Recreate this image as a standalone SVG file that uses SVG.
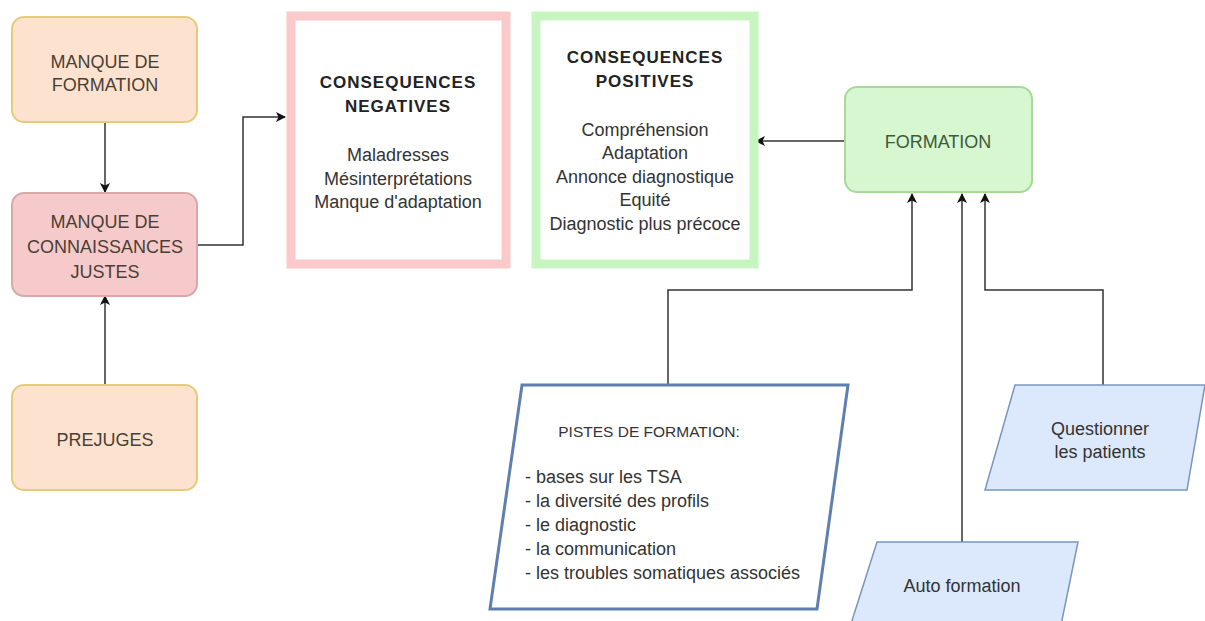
<svg xmlns="http://www.w3.org/2000/svg" width="1205" height="621" viewBox="0 0 1205 621">
<defs>
<marker id="ah" viewBox="0 0 10 10" refX="9" refY="5" markerWidth="10" markerHeight="10" markerUnits="userSpaceOnUse" orient="auto">
<path d="M0,0 L10,5 L0,10 L2.5,5 Z" fill="#111"/>
</marker>
<style>
text{font-family:"Liberation Sans",Arial,sans-serif;font-size:18px;fill:#333;text-anchor:middle}
.orange{fill:#fde3cf;stroke:#e6cc7a;stroke-width:2}
.red{fill:#f6caca;stroke:#d9a8a8;stroke-width:2}
.green{fill:#d6f7d0;stroke:#a8d89a;stroke-width:2}
.blue{fill:#dce8fb;stroke:#7a95c0;stroke-width:1.5}
.title{font-weight:bold;font-size:17px;letter-spacing:1px;fill:#222}
.conn{fill:none;stroke:#333;stroke-width:1.5;marker-end:url(#ah)}
.left{text-anchor:start}
.brown{fill:#4a3f35}
.dg{fill:#3d5a3a}
</style>
</defs>
<rect width="1205" height="621" fill="#fff"/>
<g id="connectors">
<path class="conn" d="M105,122 V192"/>
<path class="conn" d="M105,385 V296"/>
<path class="conn" d="M197,245 H243 V117 H285"/>
<path class="conn" d="M845,141 H756"/>
<path class="conn" d="M668,384 V290 H912 V194"/>
<path class="conn" d="M962,542 V194"/>
<path class="conn" d="M1103,385 V290 H985 V194"/>
</g>
<g id="manque-formation">
<rect class="orange" x="12" y="17" width="185" height="105" rx="12"/>
<text class="brown" x="105" y="68">MANQUE DE</text>
<text class="brown" x="105" y="91">FORMATION</text>
</g>
<g id="manque-connaissances">
<rect class="red" x="12" y="193" width="185" height="103" rx="12"/>
<text class="brown" x="105" y="228">MANQUE DE</text>
<text class="brown" x="105" y="253">CONNAISSANCES</text>
<text class="brown" x="105" y="278">JUSTES</text>
</g>
<g id="prejuges">
<rect class="orange" x="12" y="385" width="185" height="105" rx="12"/>
<text class="brown" x="105" y="446">PREJUGES</text>
</g>
<g id="consequences-negatives">
<rect x="291" y="16" width="215" height="248" fill="#fff" stroke="#fbc9c9" stroke-width="9"/>
<text class="title" x="398" y="88">CONSEQUENCES</text>
<text class="title" x="398" y="112">NEGATIVES</text>
<text x="398" y="161">Maladresses</text>
<text x="398" y="185">Mésinterprétations</text>
<text x="398" y="208">Manque d'adaptation</text>
</g>
<g id="consequences-positives">
<rect x="536" y="16" width="218" height="248" fill="#fff" stroke="#c6f5c0" stroke-width="9"/>
<text class="title" x="645" y="63">CONSEQUENCES</text>
<text class="title" x="645" y="87">POSITIVES</text>
<text x="645" y="136">Compréhension</text>
<text x="645" y="159">Adaptation</text>
<text x="645" y="183">Annonce diagnostique</text>
<text x="645" y="206">Equité</text>
<text x="645" y="230">Diagnostic plus précoce</text>
</g>
<g id="formation">
<rect class="green" x="845" y="87" width="187" height="105" rx="12"/>
<text class="dg" x="938" y="148">FORMATION</text>
</g>
<g id="pistes">
<path d="M522,385 H848 L817,609 H490 Z" fill="#fff" stroke="#5f7fb0" stroke-width="3"/>
<text x="649" y="437" style="font-size:15.5px">PISTES DE FORMATION:</text>
<text class="left" x="525" y="483">- bases sur les TSA</text>
<text class="left" x="525" y="507">- la diversité des profils</text>
<text class="left" x="525" y="531">- le diagnostic</text>
<text class="left" x="525" y="555">- la communication</text>
<text class="left" x="525" y="579">- les troubles somatiques associés</text>
</g>
<g id="questionner">
<path class="blue" d="M1015,385 H1205 L1187,490 H985 Z"/>
<text x="1100" y="435">Questionner</text>
<text x="1100" y="458">les patients</text>
</g>
<g id="auto-formation">
<path class="blue" d="M877,542 H1078 L1060,630 H849 Z"/>
<text x="962" y="592">Auto formation</text>
</g>
</svg>
